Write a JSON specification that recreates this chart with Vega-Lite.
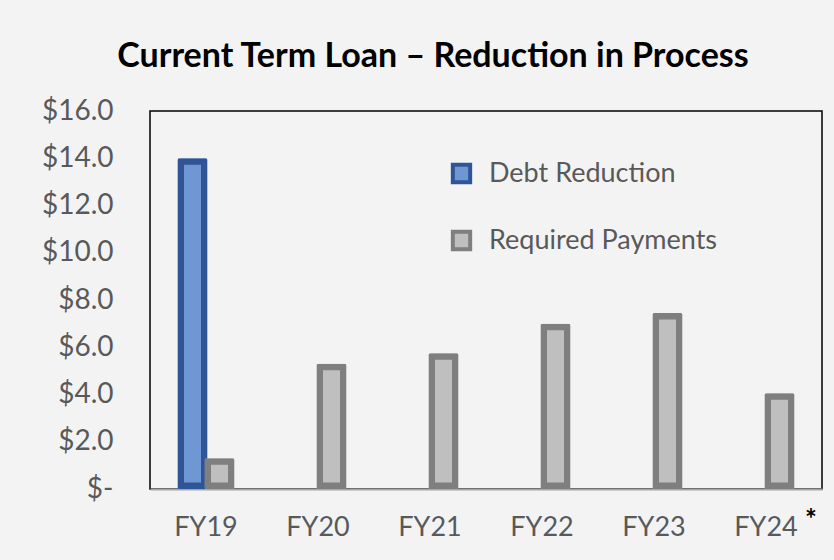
{
  "$schema": "https://vega.github.io/schema/vega-lite/v6.json",
  "autosize": {"type": "none"},
  "width": 672,
  "height": 378,
  "padding": {"left": 150, "top": 111, "right": 12, "bottom": 71},
  "background": "#F3F3F4",
  "title": {
    "text": "Current Term Loan – Reduction in Process",
    "font": "Lato",
    "fontSize": 34,
    "fontWeight": "bold",
    "color": "#000000",
    "anchor": "middle",
    "dx": -53,
    "offset": 23
  },
  "datasets": {
    "loans": [
      {"year": "FY19", "series": "Debt Reduction", "value": 14.0},
      {"year": "FY19", "series": "Required Payments", "value": 1.3},
      {"year": "FY20", "series": "Required Payments", "value": 5.3},
      {"year": "FY21", "series": "Required Payments", "value": 5.75},
      {"year": "FY22", "series": "Required Payments", "value": 7.0},
      {"year": "FY23", "series": "Required Payments", "value": 7.45},
      {"year": "FY24", "series": "Required Payments", "value": 4.05}
    ],
    "notes": [
      {"year": "FY24", "note": "*", "value": 0}
    ]
  },
  "encoding": {
    "x": {
      "field": "year",
      "type": "nominal",
      "scale": {"domain": ["FY19", "FY20", "FY21", "FY22", "FY23", "FY24"], "paddingInner": 0, "paddingOuter": 0},
      "axis": {
        "title": null,
        "labelAngle": 0,
        "labelFont": "Lato",
        "labelFontSize": 27,
        "labelColor": "#595959",
        "labelPadding": 25,
        "ticks": false,
        "domainColor": "#A6A6A6",
        "domainWidth": 2
      }
    }
  },
  "layer": [
    {
      "data": {"name": "loans"},
      "transform": [{"filter": "datum.series == 'Debt Reduction'"}],
      "mark": {"type": "bar", "width": 30, "xOffset": -13.5, "strokeWidth": 13, "cornerRadius": 2},
      "encoding": {
        "y": {
          "field": "value",
          "type": "quantitative",
          "scale": {"domain": [0, 16]},
          "axis": {
            "title": null,
            "values": [0, 2, 4, 6, 8, 10, 12, 14, 16],
            "labelExpr": "datum.value == 0 ? '$-' : '$' + format(datum.value, '.1f')",
            "labelFont": "Lato",
            "labelFontSize": 28,
            "labelColor": "#595959",
            "labelPadding": 37,
            "ticks": false,
            "domain": false,
            "grid": false
          }
        },
        "fill": {
          "field": "series",
          "type": "nominal",
          "scale": {"domain": ["Debt Reduction", "Required Payments"], "range": ["#6F97D3", "#BFBFBF"]},
          "legend": {
            "title": null,
            "orient": "none",
            "legendX": 298,
            "legendY": 49,
            "symbolType": "square",
            "symbolSize": 300,
            "symbolStrokeWidth": 4,
            "labelFont": "Lato",
            "labelFontSize": 27,
            "labelColor": "#595959",
            "labelOffset": 14,
            "labelLimit": 0,
            "rowPadding": 32
          }
        },
        "stroke": {
          "field": "series",
          "type": "nominal",
          "scale": {"domain": ["Debt Reduction", "Required Payments"], "range": ["#2F5597", "#7F7F7F"]},
          "legend": null
        }
      }
    },
    {
      "data": {"name": "loans"},
      "transform": [{"filter": "datum.series == 'Required Payments'"}],
      "mark": {"type": "bar", "width": 30, "xOffset": 13.5, "strokeWidth": 13, "cornerRadius": 2},
      "encoding": {
        "y": {"field": "value", "type": "quantitative"},
        "fill": {"field": "series", "type": "nominal"},
        "stroke": {"field": "series", "type": "nominal"}
      }
    },
    {
      "data": {"name": "notes"},
      "mark": {"type": "text", "font": "Lato", "fontSize": 28, "fontWeight": "bold", "color": "#000000", "dx": 45, "dy": 32, "clip": false},
      "encoding": {
        "y": {"field": "value", "type": "quantitative"},
        "text": {"field": "note"}
      }
    }
  ],
  "config": {
    "view": {"stroke": "#000000", "strokeWidth": 1.5},
    "axis": {"labelFlush": false, "labelOverlap": false}
  }
}
